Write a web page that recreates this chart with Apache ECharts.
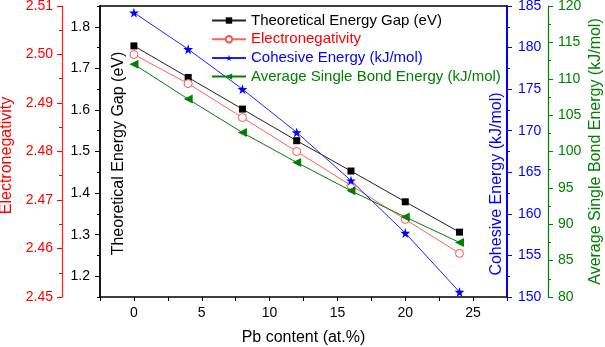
<!DOCTYPE html>
<html>
<head>
<meta charset="utf-8">
<script src="https://cdn.jsdelivr.net/npm/echarts@6/dist/echarts.min.js"></script>
<style>
  html, body { margin: 0; padding: 0; background: #fff; }
  #chart { width: 605px; height: 347px; }
</style>
</head>
<body>
<div id="chart"></div>
<script>
// data
const pbContent = [0, 4, 8, 12, 16, 20, 24]
const energyGap = [1.754, 1.678, 1.602, 1.526, 1.453, 1.379, 1.306]
const electronegativity = [2.500, 2.494, 2.487, 2.480, 2.473, 2.466, 2.459]
const cohesiveEnergy = [184.2, 179.8, 175.0, 169.8, 164.0, 157.7, 150.6]
const bondEnergy = [112.0, 107.2, 102.6, 98.5, 94.6, 91.0, 87.5]

const seriesNames = [
  'Theoretical Energy Gap (eV)',
  'Electronegativity',
  'Cohesive Energy (kJ/mol)',
  'Average Single Bond Energy (kJ/mol)',
]
const gapTicks = [1.2, 1.3, 1.4, 1.5, 1.6, 1.7, 1.8]

const font = 'Liberation Sans, Arial, sans-serif'
const starPath = 'path://M50,0 L61,35 L98,35 L68,57 L79,91 L50,70 L21,91 L32,57 L2,35 L39,35 Z'

const pairs = (ys) => pbContent.map((x, i) => [x, ys[i]])

const chart = echarts.init(document.getElementById('chart'), null, { renderer: 'canvas' })

const yAxisBase = (color, extra) => Object.assign({
  type: 'value',
  splitLine: { show: false },
  nameLocation: 'middle',
  nameMoveOverlap: false,
  nameTextStyle: { color: color, fontSize: 16, fontFamily: font },
  axisLine: { show: true, onZero: false, lineStyle: { color: color, width: 1.5 } },
  axisTick: { show: true, length: 5, lineStyle: { color: color, width: 1 } },
  minorTick: { show: true, splitNumber: 2, length: 3, lineStyle: { color: color, width: 1 } },
  axisLabel: { color: color, fontSize: 14, fontFamily: font, margin: 9 },
}, extra)

const option = {
  backgroundColor: '#fff',
  animation: false,
  grid: { left: 100, right: 98, top: 6, bottom: 50, show: false, containLabel: false, outerBoundsMode: 'none' },
  legend: {
    orient: 'vertical',
    left: 211,
    top: 13,
    padding: 0,
    itemWidth: 34,
    itemHeight: 8,
    itemGap: 3.7,
    textStyle: { fontSize: 15, fontFamily: font },
    data: [
      { name: seriesNames[0], textStyle: { color: '#000' } },
      { name: seriesNames[1], textStyle: { color: '#ff0000' } },
      { name: seriesNames[2], textStyle: { color: '#0000ff' } },
      { name: seriesNames[3], textStyle: { color: '#008000' } },
    ],
  },
  xAxis: [
    {
      type: 'value',
      min: -2.5,
      max: 27.5,
      interval: 2.5,
      name: 'Pb content (at.%)',
      nameLocation: 'middle',
      nameGap: 33,
      nameMoveOverlap: false,
      nameTextStyle: { color: '#000', fontSize: 16, fontFamily: font },
      splitLine: { show: false },
      axisLine: { show: true, onZero: false, lineStyle: { color: '#000', width: 1.5 } },
      axisTick: { show: true, length: 4, lineStyle: { color: '#000' } },
      axisLabel: {
        color: '#000', fontSize: 14, fontFamily: font, margin: 9,
        formatter: (v) => (Math.abs(v % 5) < 1e-6 ? String(v) : ''),
      },
    },
    {
      // top frame line
      type: 'value',
      position: 'top',
      min: -2.5,
      max: 27.5,
      splitLine: { show: false },
      axisLine: { show: true, onZero: false, lineStyle: { color: '#000', width: 1.5 } },
      axisTick: { show: false },
      axisLabel: { show: false },
    },
  ],
  yAxis: [
    yAxisBase('#000', {
      position: 'left',
      min: 1.15,
      max: 1.85,
      interval: 0.05,
      name: seriesNames[0],
      nameGap: -27,
      nameTextStyle: { color: '#000', fontSize: 16, fontFamily: font, padding: [0, 4, 0, 0] },
      minorTick: { show: false },
      axisTick: { show: true, length: 3, lineStyle: { color: '#000' } },
      axisLabel: {
        color: '#000', fontSize: 14, fontFamily: font, margin: 10,
        customValues: gapTicks,
        formatter: (v) => v.toFixed(1),
      },
      axisLine: { show: true, onZero: false, lineStyle: { color: '#000', width: 1.8 } },
    }),
    yAxisBase('#ff0000', {
      position: 'left',
      offset: 38,
      min: 2.45,
      max: 2.51,
      interval: 0.01,
      name: seriesNames[1],
      nameGap: 47,
      nameTextStyle: { color: '#ff0000', fontSize: 16, fontFamily: font, padding: [0, 8, 0, 0] },
      axisLine: { show: true, onZero: false, lineStyle: { color: '#ff2020', width: 1.2 } },
      axisLabel: {
        color: '#ff0000', fontSize: 14, fontFamily: font, margin: 9,
        formatter: (v) => v.toFixed(2),
      },
    }),
    yAxisBase('#0000ff', {
      position: 'right',
      min: 150,
      max: 185,
      interval: 5,
      name: seriesNames[2],
      nameGap: -18,
      nameTextStyle: { color: '#0000ff', fontSize: 16, fontFamily: font, padding: [0, 65, 0, 0] },
      axisLine: { show: true, onZero: false, lineStyle: { color: '#0000ff', width: 2 } },
      axisLabel: { color: '#0000ff', fontSize: 14, fontFamily: font, margin: 11 },
    }),
    yAxisBase('#008000', {
      position: 'right',
      offset: 41,
      min: 80,
      max: 120,
      interval: 5,
      name: seriesNames[3],
      nameGap: 40,
      axisLine: { show: true, onZero: false, lineStyle: { color: '#008000', width: 1.2 } },
      axisLabel: { color: '#008000', fontSize: 14, fontFamily: font, margin: 10 },
    }),
    {
      // longer major ticks of the energy gap axis
      type: 'value',
      position: 'left',
      offset: 0,
      min: 1.15,
      max: 1.85,
      interval: 0.05,
      splitLine: { show: false },
      axisLine: { show: false, onZero: false },
      axisLabel: { show: false },
      axisTick: { show: true, length: 5, customValues: gapTicks, lineStyle: { color: '#000' } },
    },
  ],
  series: [
    {
      name: seriesNames[0],
      type: 'line',
      yAxisIndex: 0,
      data: pairs(energyGap),
      symbol: 'rect',
      symbolSize: 7,
      itemStyle: { color: '#000' },
      lineStyle: { color: '#222', width: 1 },
    },
    {
      name: seriesNames[1],
      type: 'line',
      yAxisIndex: 1,
      data: pairs(electronegativity),
      symbol: 'circle',
      symbolSize: 8,
      itemStyle: { color: '#fff', borderColor: '#ff5050', borderWidth: 1 },
      lineStyle: { color: '#ff6060', width: 1 },
    },
    {
      name: seriesNames[2],
      type: 'line',
      yAxisIndex: 2,
      data: pairs(cohesiveEnergy),
      symbol: starPath,
      symbolSize: 10,
      itemStyle: { color: '#0000ff' },
      lineStyle: { color: '#2020ff', width: 1 },
    },
    {
      name: seriesNames[3],
      type: 'line',
      yAxisIndex: 3,
      data: pairs(bondEnergy),
      symbol: 'triangle',
      symbolRotate: 90,
      symbolSize: 9,
      itemStyle: { color: '#008000' },
      lineStyle: { color: '#008000', width: 1 },
    },
  ],
}

chart.setOption(option)

window.addEventListener('resize', () => {
  chart.resize()
})
</script>
</body>
</html>
